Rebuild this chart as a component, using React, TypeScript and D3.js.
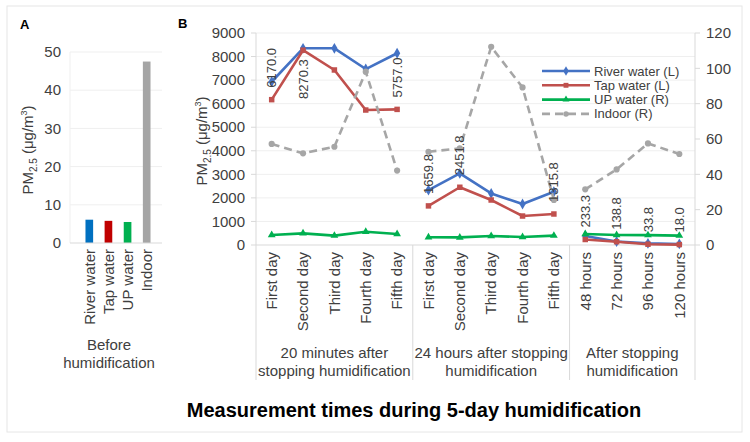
import React from "react";
import * as d3 from "d3";

// Panel A: before humidification
const barCategories = ["River water", "Tap water", "UP water", "Indoor"];
const barValues = [6.1, 5.8, 5.5, 47.5];
const barColors = ["#0070C0", "#C00000", "#00B050", "#A5A5A5"];
const barTicks = [0, 10, 20, 30, 40, 50];

// Panel B: measurement times
const timeLabels = [
  "First day", "Second day", "Third day", "Fourth day", "Fifth day",
  "First day", "Second day", "Third day", "Fourth day", "Fifth day",
  "48 hours", "72 hours", "96 hours", "120 hours",
];
const groupOf = [0, 0, 0, 0, 0, 1, 1, 1, 1, 1, 2, 2, 2, 2];
const groupLabels = [
  ["20 minutes after", "stopping humidification"],
  ["24 hours after stopping", "humidification"],
  ["After stopping", "humidification"],
];

const riverWater = [6930, 8350, 8350, 7470, 8140, 2330, 3040, 2190, 1740, 2260, 380, 150, 70, 45];
const tapWater = [6170.0, 8270.3, 7430, 5730, 5757.0, 1659.8, 2451.8, 1910, 1230, 1315.8, 233.3, 138.8, 33.8, 18.0];
const upWater = [5.7, 6.6, 5.3, 7.5, 6.2, 4.4, 4.3, 5.1, 4.5, 5.3, 6.2, 5.7, 5.6, 5.3];
const indoor = [57.2, 51.9, 55.6, 98.1, 42.1, 52.8, 54.7, 112.2, 89.2, 25.5, 31.5, 42.8, 57.5, 51.5];

const tapLabels = ["6170.0", "8270.3", "", "", "5757.0", "1659.8", "2451.8", "", "", "1315.8", "233.3", "138.8", "33.8", "18.0"];
const tapLabelSide = ["above", "below", "", "", "above", "above", "above", "", "", "above", "above", "above", "above", "above"];

const leftTicks = [0, 1000, 2000, 3000, 4000, 5000, 6000, 7000, 8000, 9000];
const rightTicks = [0, 20, 40, 60, 80, 100, 120];

const FONT = "'Liberation Sans', Arial, sans-serif";
const TXT = "#404040";
const AXIS = "#d9d9d9";
const GRID = "#efefef";

type Series = {
  name: string;
  values: number[];
  axis: "L" | "R";
  color: string;
  symbol: d3.SymbolType;
  size: number;
  dash?: string;
};

const series: Series[] = [
  { name: "River water (L)", values: riverWater, axis: "L", color: "#4472C4", symbol: d3.symbolDiamond, size: 34 },
  { name: "Tap water (L)", values: tapWater, axis: "L", color: "#C0504D", symbol: d3.symbolSquare, size: 30 },
  { name: "UP water (R)", values: upWater, axis: "R", color: "#00B050", symbol: d3.symbolTriangle, size: 26 },
  { name: "Indoor (R)", values: indoor, axis: "R", color: "#A6A6A6", symbol: d3.symbolCircle, size: 30, dash: "8,5" },
];

function PMLabel({ x, y }: { x: number; y: number }) {
  return (
    <text
      transform={`translate(${x},${y}) rotate(-90)`}
      textAnchor="middle"
      fontSize={15}
      fill={TXT}
      fontFamily={FONT}
    >
      PM
      <tspan fontSize={10} dy={4}>2.5</tspan>
      <tspan dy={-4}> (μg/m</tspan>
      <tspan fontSize={9} dy={-6}>3</tspan>
      <tspan dy={6}>)</tspan>
    </text>
  );
}

function PanelA() {
  const x = d3.scaleBand<string>().domain(barCategories).range([74, 162]).padding(0.6);
  const y = d3.scaleLinear().domain([0, 50]).range([243, 52]);
  return (
    <g fontFamily={FONT}>
      <text x={20} y={29} fontSize={13} fontWeight="bold" fill="#000">A</text>
      {barTicks.map((t) => (
        <g key={t}>
          {t > 0 && <line x1={70} x2={162} y1={y(t)} y2={y(t)} stroke={GRID} />}
          <text x={61} y={y(t)} dy="0.35em" textAnchor="end" fontSize={15} fill={TXT}>
            {t}
          </text>
        </g>
      ))}
      <line x1={70} x2={70} y1={y(50)} y2={y(0)} stroke={GRID} />
      {barCategories.map((c, i) => (
        <rect
          key={c}
          x={x(c)}
          y={y(barValues[i])}
          width={x.bandwidth()}
          height={y(0) - y(barValues[i])}
          fill={barColors[i]}
        />
      ))}
      <line x1={70} x2={162} y1={y(0)} y2={y(0)} stroke={AXIS} />
      {barCategories.map((c) => (
        <text
          key={c}
          transform={`translate(${x(c)! + x.bandwidth() / 2},${y(0) + 6}) rotate(-90)`}
          dy="0.35em"
          textAnchor="end"
          fontSize={15}
          fill={TXT}
        >
          {c}
        </text>
      ))}
      <text x={109} y={350} textAnchor="middle" fontSize={15} fill={TXT}>Before</text>
      <text x={109} y={368} textAnchor="middle" fontSize={15} fill={TXT}>humidification</text>
      <PMLabel x={33} y={150} />
    </g>
  );
}

function PanelB() {
  const idx = timeLabels.map((_, i) => String(i));
  const x = d3.scaleBand<string>().domain(idx).range([256, 695]);
  const cx = (i: number) => x(String(i))! + x.bandwidth() / 2;
  const yL = d3.scaleLinear().domain([0, 9000]).range([245, 33]);
  const yR = d3.scaleLinear().domain([0, 120]).range([245, 33]);
  const groups = d3.groups(idx.map(Number), (i) => groupOf[i]);
  const bottom = 380;
  const dividers = [0, ...groups.map(([, ii]) => ii[ii.length - 1] + 1)].map((i) =>
    i < idx.length ? x(String(i))! : x.range()[1]
  );

  return (
    <g fontFamily={FONT}>
      <text x={178} y={28} fontSize={13} fontWeight="bold" fill="#000">B</text>

      {/* grid */}
      {leftTicks.slice(1).map((t) => (
        <line key={t} x1={256} x2={695} y1={yL(t)} y2={yL(t)} stroke={GRID} />
      ))}

      {/* axes */}
      <line x1={256} x2={256} y1={yL(9000)} y2={bottom} stroke={AXIS} />
      <line x1={695} x2={695} y1={yR(120)} y2={yR(0)} stroke={AXIS} />
      <line x1={256} x2={695} y1={yL(0)} y2={yL(0)} stroke={AXIS} />
      {dividers.slice(1).map((d, i) => (
        <line key={i} x1={d} x2={d} y1={yL(0)} y2={bottom} stroke={AXIS} />
      ))}
      {leftTicks.map((t) => (
        <g key={t}>
          <line x1={251} x2={256} y1={yL(t)} y2={yL(t)} stroke={AXIS} />
          <text x={245} y={yL(t)} dy="0.35em" textAnchor="end" fontSize={15} fill={TXT}>
            {t}
          </text>
        </g>
      ))}
      {rightTicks.map((t) => (
        <g key={t}>
          <line x1={695} x2={700} y1={yR(t)} y2={yR(t)} stroke={AXIS} />
          <text x={706} y={yR(t)} dy="0.35em" fontSize={15} fill={TXT}>
            {t}
          </text>
        </g>
      ))}

      {/* category labels */}
      {timeLabels.map((t, i) => (
        <text
          key={i}
          transform={`translate(${cx(i)},${yL(0) + 7}) rotate(-90)`}
          dy="0.35em"
          textAnchor="end"
          fontSize={15}
          fill={TXT}
        >
          {t}
        </text>
      ))}
      {groupLabels.map((lines, g) => {
        const mid = (dividers[g] + dividers[g + 1]) / 2;
        return lines.map((l, k) => (
          <text key={`${g}-${k}`} x={mid} y={358 + k * 18} textAnchor="middle" fontSize={15} fill={TXT}>
            {l}
          </text>
        ));
      })}

      {/* lines */}
      {series.map((s) => {
        const y = s.axis === "L" ? yL : yR;
        const line = d3.line<number>().x((i) => cx(i)).y((i) => y(s.values[i]));
        const sym = d3.symbol(s.symbol, s.size)()!;
        return (
          <g key={s.name}>
            {groups.map(([g, ii]) => (
              <path
                key={g}
                d={line(ii)!}
                fill="none"
                stroke={s.color}
                strokeWidth={2.6}
                strokeDasharray={s.dash}
                strokeLinejoin="round"
              />
            ))}
            {s.values.map((v, i) => (
              <path key={i} d={sym} transform={`translate(${cx(i)},${y(v)})`} fill={s.color} />
            ))}
          </g>
        );
      })}

      {/* data labels */}
      {tapLabels.map((l, i) =>
        l ? (
          <text
            key={i}
            transform={`translate(${cx(i)},${
              tapLabelSide[i] === "below" ? yL(tapWater[i]) + 9 : yL(tapWater[i]) - 12
            }) rotate(-90)`}
            dy="0.35em"
            textAnchor={tapLabelSide[i] === "below" ? "end" : "start"}
            fontSize={13}
            fill={TXT}
          >
            {l}
          </text>
        ) : null
      )}

      {/* legend */}
      {series.map((s, k) => {
        const ly = 71 + k * 14.3;
        return (
          <g key={s.name}>
            <line x1={542} x2={590} y1={ly} y2={ly} stroke={s.color} strokeWidth={2.6} strokeDasharray={s.dash} />
            <path d={d3.symbol(s.symbol, s.size * 0.8)()!} transform={`translate(566,${ly})`} fill={s.color} />
            <text x={594} y={ly} dy="0.35em" fontSize={13} fill={TXT}>
              {s.name}
            </text>
          </g>
        );
      })}

      <PMLabel x={207} y={141} />
    </g>
  );
}

export default function App() {
  return (
    <svg
      width={750}
      height={442}
      style={{ position: "absolute", left: 0, top: 0, background: "#fff" }}
    >
      <rect x={0} y={0} width={750} height={442} fill="#fff" />
      <rect x={7} y={6} width={735} height={426} fill="none" stroke="#e6e6e6" />
      <PanelA />
      <PanelB />
      <text x={414} y={417} textAnchor="middle" fontSize={20} fontWeight="bold" fontFamily={FONT} fill="#000">
        Measurement times during 5-day humidification
      </text>
    </svg>
  );
}
